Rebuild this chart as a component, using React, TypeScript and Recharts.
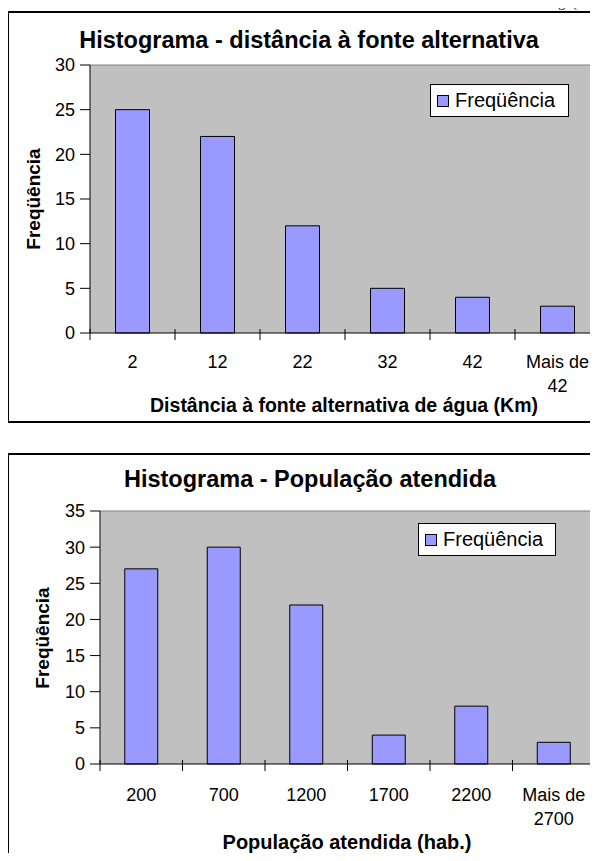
import React from 'react';
import { BarChart, Bar, XAxis, YAxis, Legend, CartesianGrid, ReferenceLine } from 'recharts';

// histogram 1: distância à fonte alternativa
const distBins = ['2', '12', '22', '32', '42', 'Mais de 42'];
const distFreq = [25, 22, 12, 5, 4, 3];
const distTicks = [0, 5, 10, 15, 20, 25, 30];

// histogram 2: população atendida
const popBins = ['200', '700', '1200', '1700', '2200', 'Mais de 2700'];
const popFreq = [27, 30, 22, 4, 8, 3];
const popTicks = [0, 5, 10, 15, 20, 25, 30, 35];

const FONT = '"Liberation Sans", Arial, sans-serif';
const BAR = '#9999FF';
const PLOT_BG = '#C0C0C0';

interface HistProps {
  bins: string[];
  freq: number[];
  ticks: number[];
  top: number;
  height: number;
  yAxisWidth: number;
  margin: { top: number; right: number; bottom: number; left: number };
  legendPos: { left: number; top: number; width: number };
  labelGap: number;
}

const LegendBox = (props: any) => {
  const item = props.payload && props.payload[0];
  return (
    <div
      style={{
        border: '1px solid #000',
        background: '#fff',
        height: 33,
        boxSizing: 'border-box',
        display: 'flex',
        alignItems: 'center',
        paddingLeft: 6,
      }}
    >
      <span style={{ width: 10, height: 10, background: BAR, border: '1px solid #000', marginRight: 6 }} />
      <span style={{ fontFamily: FONT, fontSize: 20, color: '#000' }}>{item ? item.value : ''}</span>
    </div>
  );
};

const Histogram: React.FC<HistProps> = ({ bins, freq, ticks, top, height, yAxisWidth, margin, legendPos, labelGap }) => {
  const data = bins.map((bin, i) => ({ bin, freq: freq[i] }));
  const width = 598;
  const plotW = width - yAxisWidth - margin.left - margin.right;
  const band = plotW / bins.length;
  const plotTop = margin.top;

  const XTick = (props: any) => {
    const { x, y, payload, index } = props;
    const label: string = String(payload.value);
    const lines = label.startsWith('Mais de ') ? ['Mais de', label.slice(8)] : [label];
    const left = x - band / 2;
    const right = x + band / 2;
    return (
      <g>
        <line x1={left} x2={left} y1={y - 4} y2={y + 7} stroke="#000" />
        {index === bins.length - 1 && (
          <g>
            <line x1={right} x2={right} y1={plotTop} y2={y} stroke="#808080" />
            <line x1={right} x2={right} y1={y - 4} y2={y + 7} stroke="#000" />
          </g>
        )}
        <text x={x} y={y + labelGap} textAnchor="middle" fontSize={18} fontFamily={FONT} fill="#000">
          {lines.map((l, i) => (
            <tspan key={i} x={x} dy={i === 0 ? 0 : 24}>
              {l}
            </tspan>
          ))}
        </text>
      </g>
    );
  };

  return (
    <div style={{ position: 'absolute', left: 0, top }}>
      <BarChart width={width} height={height} data={data} margin={margin} barCategoryGap="30%">
        <CartesianGrid fill={PLOT_BG} horizontal={false} vertical={false} />
        <ReferenceLine y={ticks[ticks.length - 1]} stroke="#808080" />
        <XAxis
          dataKey="bin"
          height={60}
          interval={0}
          tickSize={0}
          tickMargin={0}
          tickLine={false}
          axisLine={{ stroke: '#000' }}
          tick={(p: any) => <XTick {...p} />}
        />
        <YAxis
          width={yAxisWidth}
          domain={[0, ticks[ticks.length - 1]]}
          ticks={ticks}
          interval={0}
          tickSize={10}
          tickMargin={5}
          axisLine={{ stroke: '#000' }}
          tickLine={{ stroke: '#000' }}
          tick={{ fontSize: 18, fontFamily: FONT, fill: '#000' }}
        />
        <Legend
          layout="horizontal"
          verticalAlign="middle"
          align="center"
          content={<LegendBox />}
          wrapperStyle={{ left: legendPos.left, top: legendPos.top, width: legendPos.width }}
        />
        <Bar dataKey="freq" name="Freqüência" fill={BAR} stroke="#000" strokeWidth={1} isAnimationActive={false} />
      </BarChart>
    </div>
  );
};

const textBase: React.CSSProperties = {
  position: 'absolute',
  fontFamily: FONT,
  fontWeight: 'bold',
  color: '#000',
  whiteSpace: 'nowrap',
  lineHeight: 1,
  transform: 'translate(-50%, -50%)',
};

export default function App() {
  return (
    <div style={{ position: 'relative', margin: -8, width: 598, height: 861, overflow: 'hidden', background: '#fff' }}>
      <span style={{ position: 'absolute', left: 552, top: -4, lineHeight: 1, fontFamily: '"Liberation Serif", serif', fontSize: 14, color: '#000' }}>
        ág. (
      </span>

      {/* chart 1 frame */}
      <div style={{ position: 'absolute', left: 7, top: 11, width: 640, height: 412, border: '2px solid #000', boxSizing: 'border-box' }} />
      <Histogram
        bins={distBins}
        freq={distFreq}
        ticks={distTicks}
        top={0}
        height={440}
        yAxisWidth={90}
        margin={{ top: 65, right: -2, bottom: 47, left: 0 }}
        legendPos={{ left: 430, top: 84, width: 139 }}
        labelGap={35}
      />
      <div style={{ ...textBase, left: 309, top: 41, fontSize: 23.5 }}>Histograma - distância à fonte alternativa</div>
      <div style={{ ...textBase, left: 33, top: 199, fontSize: 19, transform: 'translate(-50%, -50%) rotate(-90deg)' }}>Freqüência</div>
      <div style={{ ...textBase, left: 344, top: 406, fontSize: 19.5 }}>Distância à fonte alternativa de água (Km)</div>

      {/* chart 2 frame */}
      <div style={{ position: 'absolute', left: 7, top: 453, width: 640, height: 500, border: '2px solid #000', boxSizing: 'border-box' }} />
      <Histogram
        bins={popBins}
        freq={popFreq}
        ticks={popTicks}
        top={440}
        height={421}
        yAxisWidth={100}
        margin={{ top: 71, right: 3, bottom: 37, left: 0 }}
        legendPos={{ left: 418, top: 83, width: 138 }}
        labelGap={37}
      />
      <div style={{ ...textBase, left: 310, top: 480, fontSize: 23.5 }}>Histograma - População atendida</div>
      <div style={{ ...textBase, left: 42, top: 638, fontSize: 19, transform: 'translate(-50%, -50%) rotate(-90deg)' }}>Freqüência</div>
      <div style={{ ...textBase, left: 347, top: 842, fontSize: 20 }}>População atendida (hab.)</div>
    </div>
  );
}
